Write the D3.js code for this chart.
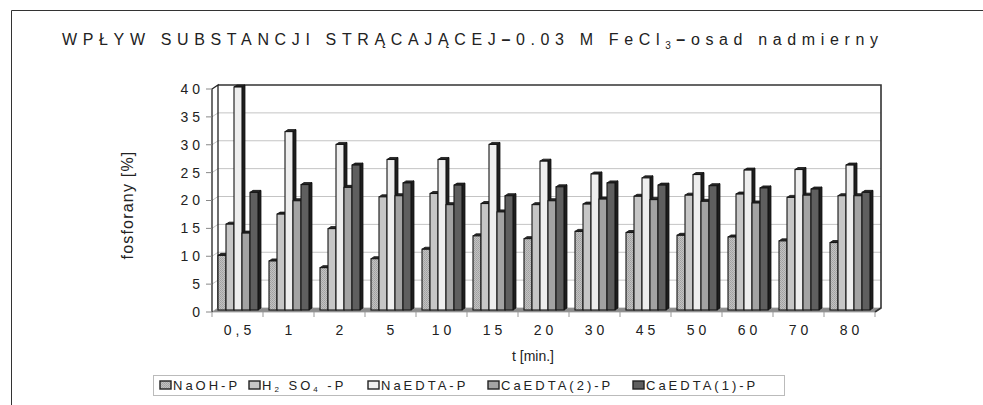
<!DOCTYPE html>
<html>
<head>
<meta charset="utf-8">
<script src="https://cdn.jsdelivr.net/npm/d3@7"></script>
<style>
  html, body { margin: 0; padding: 0; background: #fff; }
  svg { display: block; }
  text { font-family: "Liberation Sans", Arial, sans-serif; fill: #222; }
</style>
</head>
<body>
<svg id="chart" width="983" height="405"></svg>
<script>
// Sampling times (minutes) along the category axis
const categories = ["0,5", "1", "2", "5", "10", "15", "20", "30", "45", "50", "60", "70", "80"];

// Series names for the legend
const seriesNames = ["NaOH-P", "H2SO4-P", "NaEDTA-P", "CaEDTA(2)-P", "CaEDTA(1)-P"];

// Phosphate fractions [%] for each series, one value per sampling time
const naohP    = [9.8, 8.8, 7.6, 9.2, 10.9, 13.3, 12.8, 14.1, 13.9, 13.4, 13.1, 12.4, 12.1];
const h2so4P   = [15.4, 17.2, 14.6, 20.3, 20.9, 19.1, 18.9, 19.0, 20.4, 20.6, 20.8, 20.2, 20.5];
const naedtaP  = [40.0, 32.0, 29.7, 27.0, 27.0, 29.7, 26.7, 24.4, 23.7, 24.3, 25.1, 25.2, 26.0];
const caedta2P = [13.8, 19.6, 22.0, 20.5, 18.9, 17.6, 19.6, 19.9, 19.8, 19.5, 19.2, 20.6, 20.5];
const caedta1P = [21.1, 22.5, 26.0, 22.8, 22.4, 20.5, 22.1, 22.8, 22.4, 22.3, 21.9, 21.7, 21.1];

// Value axis ticks
const yTicks = [0, 5, 10, 15, 20, 25, 30, 35, 40];

const seriesValues = [naohP, h2so4P, naedtaP, caedta2P, caedta1P];
const fills = ["url(#speckle)", "#c6c6c6", "#eeeeee", "#a3a3a3", "#5f5f5f"];

const svg = d3.select("#chart");

// speckled texture for the first series
const defs = svg.append("defs");
const pat = defs.append("pattern").attr("id", "speckle")
  .attr("width", 2).attr("height", 2).attr("patternUnits", "userSpaceOnUse");
pat.append("rect").attr("width", 2).attr("height", 2).attr("fill", "#c2c2c2");
pat.append("rect").attr("width", 1).attr("height", 1).attr("fill", "#a0a0a0");
pat.append("rect").attr("x", 1).attr("y", 1).attr("width", 1).attr("height", 1).attr("fill", "#a8a8a8");

// outer frame
svg.append("path").attr("d", "M11.5,405 L11.5,10.5 L990,10.5")
  .attr("fill", "none").attr("stroke", "#333").attr("stroke-width", 1);

// title, spread evenly across its line
const title = svg.append("text").attr("x", 62).attr("y", 45)
  .style("font-size", "16px").style("letter-spacing", "0px");
title.append("tspan").text("WPŁYW SUBSTANCJI STRĄCAJĄCEJ");
title.append("tspan").style("font-weight", "bold").text("–");
title.append("tspan").text("0.03 M FeCl");
title.append("tspan").attr("dy", 4).style("font-size", "10px").text("3");
title.append("tspan").attr("dy", -4).style("font-weight", "bold").text("–");
title.append("tspan").text("osad nadmierny");
{
  const natural = title.node().getComputedTextLength();
  const n = title.text().length;
  const spacing = (816 - natural) / (n - 1);
  title.style("letter-spacing", spacing + "px");
}

// 3D layout: front plane and depth offset
const left = 212, right = 875;
const depth = [6, -4];
const x = d3.scaleBand().domain(categories).range([left, right]);
const y = d3.scaleLinear().domain([0, 40]).range([312, 89]);
const xs = d3.scaleBand().domain(d3.range(seriesNames.length))
  .range([5.5, x.bandwidth() - 5.5]);

const dx = depth[0], dy = depth[1];
const yb = v => y(v) + dy;

// back wall
svg.append("rect").attr("x", left + dx).attr("y", yb(40))
  .attr("width", right - left).attr("height", y(0) - y(40))
  .attr("fill", "#fff");

// gridlines (left wall + back wall)
svg.append("g").selectAll("path").data(yTicks.filter(t => t > 0 && t < 40)).join("path")
  .attr("d", t => `M${left},${y(t)} L${left + dx},${yb(t)} L${right + dx},${yb(t)}`)
  .attr("fill", "none").attr("stroke", "#c4c4c4").attr("stroke-width", 1);

// floor
svg.append("path")
  .attr("d", `M${left},${y(0)} L${left + dx},${yb(0)} L${right + dx},${yb(0)} L${right},${y(0)} Z`)
  .attr("fill", "#8c8c8c").attr("stroke", "#9a9a9a").attr("stroke-width", 0.8);

// back wall frame: top and right edges
svg.append("path")
  .attr("d", `M${left + dx},${yb(40)} L${right + dx},${yb(40)} L${right + dx},${yb(0)} L${right},${y(0)}`)
  .attr("fill", "none").attr("stroke", "#333").attr("stroke-width", 1.6);

// left wall outline
svg.append("path")
  .attr("d", `M${left},${y(0)} L${left},${y(40)} L${left + dx},${yb(40)} L${left + dx},${yb(0)}`)
  .attr("fill", "none").attr("stroke", "#222").attr("stroke-width", 1.3);

// bars: front face, top and right side
const bOff = [0.5, -2];
const bDepth = [3, -2];
const bw = xs.bandwidth();
const barData = [];
categories.forEach((c, i) => {
  seriesValues.forEach((vals, s) => {
    barData.push({ c, s, v: vals[i] });
  });
});
const bars = svg.append("g").selectAll("g").data(barData).join("g");
bars.each(function (d) {
  const g = d3.select(this);
  const x0 = x(d.c) + xs(d.s) + bOff[0];
  const x1 = x0 + bw;
  const yt = y(d.v) + bOff[1];
  const y0 = y(0) + bOff[1];
  const [px, py] = bDepth;
  g.append("path")
    .attr("d", `M${x1},${y0} L${x1},${yt} L${x1 + px},${yt + py} L${x1 + px},${y0 + py} Z`)
    .attr("fill", "#1e1e1e").attr("stroke", "#111").attr("stroke-width", 0.8);
  g.append("path")
    .attr("d", `M${x0},${yt} L${x0 + px},${yt + py} L${x1 + px},${yt + py} L${x1},${yt} Z`)
    .attr("fill", "#2a2a2a").attr("stroke", "#111").attr("stroke-width", 0.8);
  g.append("rect").attr("x", x0).attr("y", yt).attr("width", bw).attr("height", y0 - yt)
    .attr("fill", fills[d.s]).attr("stroke", "#151515").attr("stroke-width", 1.1);
});

// value axis ticks and labels
const yAxis = svg.append("g");
yAxis.selectAll("line").data(yTicks).join("line")
  .attr("x1", left - 6).attr("x2", left).attr("y1", d => y(d)).attr("y2", d => y(d))
  .attr("stroke", "#888");
yAxis.selectAll("text").data(yTicks).join("text")
  .attr("x", 204).attr("y", d => y(d)).attr("dy", "0.35em")
  .attr("text-anchor", "end")
  .style("font-size", "14px").style("letter-spacing", "4px")
  .text(d => d);

// category axis ticks and labels
const xAxis = svg.append("g");
xAxis.selectAll("line").data(d3.range(categories.length + 1)).join("line")
  .attr("x1", i => left + i * x.step()).attr("x2", i => left + i * x.step())
  .attr("y1", y(0)).attr("y2", y(0) + 5).attr("stroke", "#999");
xAxis.selectAll("text").data(categories).join("text")
  .attr("x", d => x(d) + x.bandwidth() / 2 + 2).attr("y", 335)
  .attr("text-anchor", "middle")
  .style("font-size", "14px").style("letter-spacing", "4px")
  .text(d => d);

// axis titles
svg.append("text").attr("x", 533).attr("y", 361).attr("text-anchor", "middle")
  .style("font-size", "14px").text("t [min.]");
svg.append("text").attr("transform", "translate(133,205) rotate(-90)")
  .attr("text-anchor", "middle").style("font-size", "16px").style("letter-spacing", "1.2px")
  .text("fosforany [%]");

// legend
const legend = svg.append("g");
legend.append("rect").attr("x", 153.5).attr("y", 375.5).attr("width", 631).attr("height", 20)
  .attr("fill", "#fff").attr("stroke", "#bbb");
const legendX = [160, 249, 368, 488, 633];
seriesNames.forEach((name, i) => {
  const g = legend.append("g").attr("transform", `translate(${legendX[i]},381)`);
  g.append("rect").attr("width", 11).attr("height", 8)
    .attr("fill", fills[i]).attr("stroke", "#222").attr("stroke-width", 1.4);
  const t = g.append("text").attr("x", 13).attr("y", 8.5)
    .style("font-size", "13px").style("letter-spacing", "3px");
  if (name === "H2SO4-P") {
    t.append("tspan").text("H");
    t.append("tspan").attr("dy", 2).style("font-size", "8px").text("2");
    t.append("tspan").attr("dy", -2).text(" SO");
    t.append("tspan").attr("dy", 2).style("font-size", "8px").text("4");
    t.append("tspan").attr("dy", -2).text(" -P");
  } else {
    t.text(name);
  }
});
</script>
</body>
</html>
